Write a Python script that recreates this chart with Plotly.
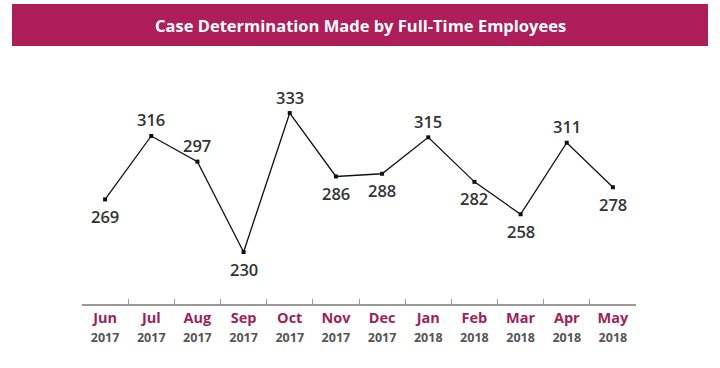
import plotly.graph_objects as go

months = ["Jun", "Jul", "Aug", "Sep", "Oct", "Nov", "Dec", "Jan", "Feb", "Mar", "Apr", "May"]
years = ["2017"] * 7 + ["2018"] * 5
values = [269, 316, 297, 230, 333, 286, 288, 315, 282, 258, 311, 278]
label_above = [False, True, True, False, True, False, False, True, False, False, True, False]

cats = [f"{m} {y}" for m, y in zip(months, years)]
ticktext = [f"<b>{m}</b><br><span style='font-size:12.5px;color:#555555'><b>{y}</b></span>"
            for m, y in zip(months, years)]

fig = go.Figure()
fig.add_trace(go.Scatter(
    x=cats, y=values, mode="lines+markers",
    line=dict(color="#111111", width=1.3),
    marker=dict(symbol="square", size=4, color="#111111"),
    cliponaxis=False, hoverinfo="skip",
))

for c, v, up in zip(cats, values, label_above):
    fig.add_annotation(x=c, y=v, text=str(v), showarrow=False,
                       xanchor="center", yanchor="middle",
                       yshift=16 if up else -17,
                       font=dict(family="Open Sans", size=16.5, color="#333333", weight=600))

fig.add_shape(type="rect", xref="paper", yref="paper",
              x0=-70/554, x1=(708-82)/554, y0=(304-46)/244, y1=(304-4)/244,
              fillcolor="#AD1E5A", line=dict(width=0), layer="above")
fig.add_annotation(text="<b>Case Determination Made by Full-Time Employees</b>",
                   xref="paper", yref="paper", x=(360-82)/554, y=(304-25)/244,
                   xanchor="center", yanchor="middle",
                   showarrow=False, font=dict(family="Open Sans", size=16.5, color="white"))

fig.update_layout(
    width=720, height=368, margin=dict(l=82, r=84, t=60, b=64),
    paper_bgcolor="white", plot_bgcolor="white", showlegend=False,
    xaxis=dict(type="category", tickmode="array", tickvals=cats, ticktext=ticktext,
               tickson="boundaries", ticks="inside", ticklen=5, tickcolor="#999999",
               tickwidth=1.2, showline=True, linecolor="#999999", linewidth=1.5,
               showgrid=False, zeroline=False, range=[-0.5, 11.5],
               tickfont=dict(family="Open Sans", size=14.5, color="#9E1F5A")),
    yaxis=dict(range=[191.5, 372.3], visible=False, showgrid=False, zeroline=False),
)
fig.write_html("out.html", config={"displayModeBar": False},
               post_script="document.body.style.margin='0';")
